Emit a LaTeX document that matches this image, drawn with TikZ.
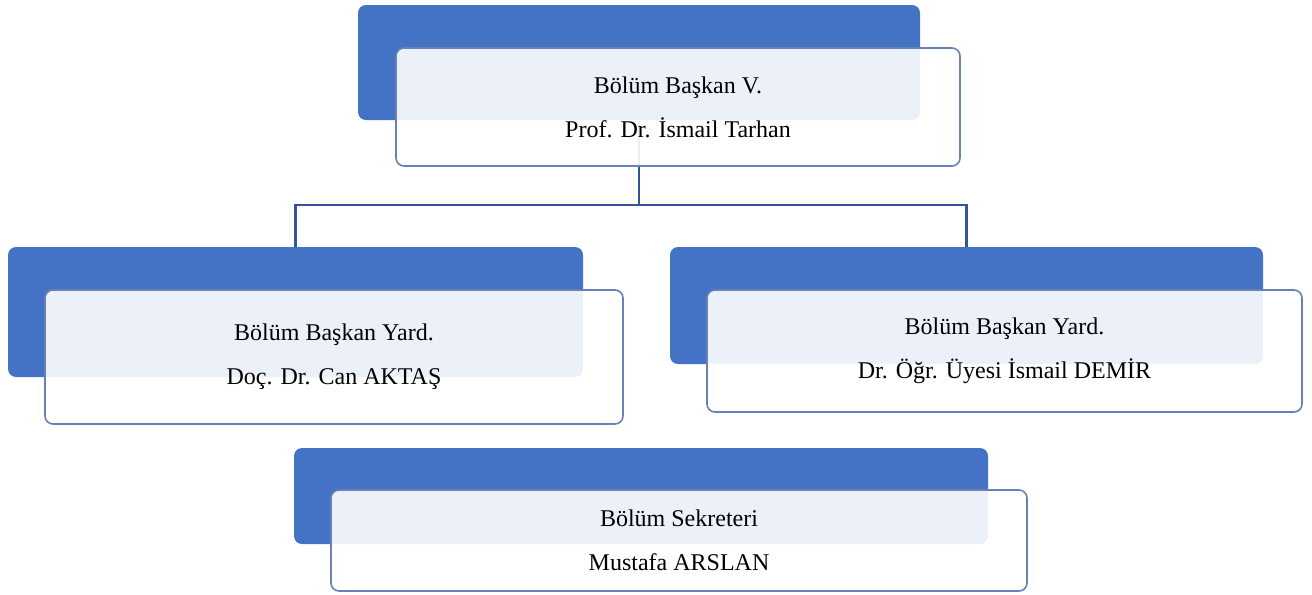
\documentclass[tikz,border=0pt]{standalone}
\usepackage{fontspec}
\setmainfont{Liberation Serif}

\definecolor{boxblue}{RGB}{68,114,196}
\definecolor{edgeblue}{RGB}{104,130,182}
\definecolor{linkblue}{RGB}{52,86,150}

\tikzset{
	back box/.style={draw=none, fill=boxblue, rounded corners=6pt, inner sep=0pt},
	front box/.style={draw=edgeblue, line width=1.2pt, fill=white, fill opacity=0.9, text opacity=1, rounded corners=6pt, inner sep=0pt, align=center, font=\fontsize{18}{33}\selectfont},
	link/.style={draw=linkblue, line width=2pt}}
\tikzset{every picture/.style={line width=0.75pt}}

\begin{document}
\begin{tikzpicture}[x=0.75pt,y=0.75pt,yscale=-1,xscale=1]
	\useasboundingbox (0,0) rectangle (1312,594);

	%Shape: Rectangle [id:topback] 
	\node [back box, minimum width=421.5pt, minimum height=86.25pt] (topback) at (639,62.5) {};
	%Shape: Rectangle [id:leftback] 
	\node [back box, minimum width=431.25pt, minimum height=97.5pt] (leftback) at (295.5,312) {};
	%Shape: Rectangle [id:rightback] 
	\node [back box, minimum width=444.75pt, minimum height=87.75pt] (rightback) at (966.5,305.5) {};
	%Shape: Rectangle [id:secback] 
	\node [back box, minimum width=520.5pt, minimum height=72pt] (secback) at (641,496) {};

	% Connectors
	\coordinate (bus) at (639,205);
	\draw [link] (topback.south) -- (bus);
	\draw [link] (leftback.north) |- (bus) -| (rightback.north);

	% Text Node
	\node [front box, minimum width=423pt, minimum height=88.5pt] (topfront) at (678,107) {Bölüm Başkan V.\\Prof. Dr. İsmail Tarhan};
	% Text Node
	\node [front box, minimum width=433.5pt, minimum height=100.5pt] (leftfront) at (334,357) {Bölüm Başkan Yard.\\Doç. Dr. Can AKTAŞ};
	% Text Node
	\node [front box, minimum width=446.25pt, minimum height=91.5pt] (rightfront) at (1004.5,351) {Bölüm Başkan Yard.\\Dr. Öğr. Üyesi İsmail DEMİR};
	% Text Node
	\node [front box, minimum width=522pt, minimum height=75.75pt] (secfront) at (679,540.5) {Bölüm Sekreteri\\Mustafa ARSLAN};

\end{tikzpicture}
\end{document}
